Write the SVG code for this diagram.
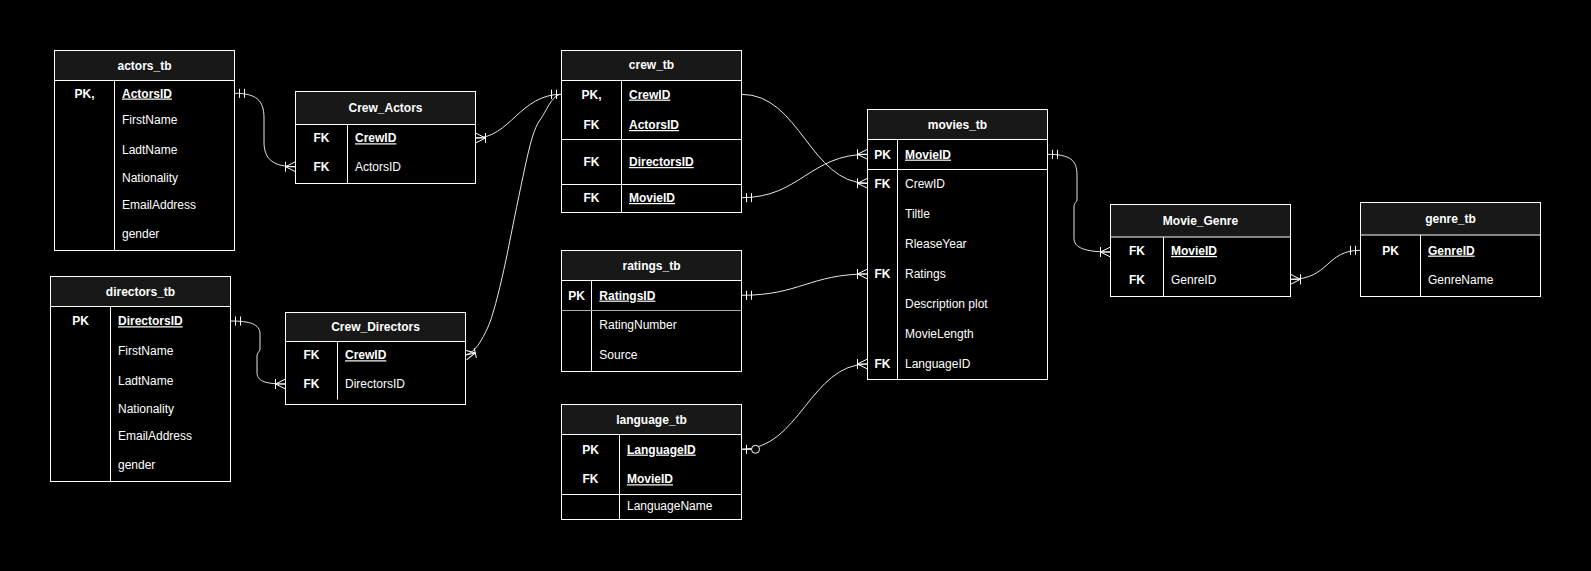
<svg xmlns="http://www.w3.org/2000/svg" width="1591" height="571" viewBox="0 0 1591 571">
<style>
.bg{fill:#000}
.box{fill:#000;stroke:#fff;stroke-width:1}
.hd{fill:#181818;stroke:#fff;stroke-width:1}
.ln{stroke:#fff;stroke-width:1;fill:none}
.lg{stroke:#aaa;stroke-width:1;fill:none}
text{font-family:"Liberation Sans",Arial,Helvetica,sans-serif;font-size:12px;fill:#fff}
.h{font-weight:bold;text-anchor:middle}
.k{font-weight:bold;text-anchor:middle}
.f{text-anchor:start}
.u{font-weight:bold;text-decoration:underline;text-anchor:start}
.c{fill:none;stroke:#e6e6e6;stroke-width:1}
</style>
<defs>
<marker id="one" markerUnits="userSpaceOnUse" viewBox="-20 -10 24 20" markerWidth="24" markerHeight="20" refX="0" refY="0" orient="auto-start-reverse" overflow="visible">
<path d="M-5 -4.5V4.5M-10 -4.5V4.5" stroke="#fff" stroke-width="1" fill="none"/>
</marker>
<marker id="many" markerUnits="userSpaceOnUse" viewBox="-20 -10 24 20" markerWidth="24" markerHeight="20" refX="0" refY="0" orient="auto-start-reverse" overflow="visible">
<path d="M0 -5L-10 0L0 5M0 0H-10M-10 -5V5" stroke="#fff" stroke-width="1" fill="none"/>
</marker>
<marker id="zeroone" markerUnits="userSpaceOnUse" viewBox="-24 -10 28 20" markerWidth="28" markerHeight="20" refX="0" refY="0" orient="auto-start-reverse" overflow="visible">
<path d="M0 0H-10M-5 -4.5V4.5" stroke="#fff" stroke-width="1" fill="none"/>
<circle cx="-14" cy="0" r="4" fill="#000" stroke="#fff" stroke-width="1"/>
</marker>
</defs>
<rect class="bg" x="0" y="0" width="1591" height="571"/>

<g id="connectors">
<path class="c" d="M234.5 93.3 C256 93.3 264 100 264 118 L264 142 C264 160 274 166.7 295.5 166.7" marker-start="url(#one)" marker-end="url(#many)"/>
<path class="c" d="M475.5 138 C510 138 520 94.3 561.5 94.3" marker-start="url(#many)" marker-end="url(#one)"/>
<path class="c" d="M465.5 355 C475 353 482 340 488 327 S503 275 508 250 S520 190 525 167 S534 128 540 120 S552 94.3 561.5 94.3" marker-start="url(#many)" marker-end="url(#one)"/>
<path class="c" d="M230.5 321 C250 321 260 324 260 334 L260 349 C260 352 257 352 257 356 L257 372 C257 381 264 384 285.5 384" marker-start="url(#one)" marker-end="url(#many)"/>
<path class="c" d="M741.5 94.3 C800 94.3 810 183.3 867.5 183.3" marker-end="url(#many)"/>
<path class="c" d="M741.5 197.7 C800 197.7 810 154.3 867.5 154.3" marker-start="url(#one)" marker-end="url(#many)"/>
<path class="c" d="M741.5 295.3 C800 295.3 810 274 867.5 274" marker-start="url(#one)" marker-end="url(#many)"/>
<path class="c" d="M741.5 449.3 C800 449.3 810 364 867.5 364" marker-start="url(#zeroone)" marker-end="url(#many)"/>
<path class="c" d="M1047.5 154.3 C1070 154.3 1077 160 1077 175 L1077 199 C1077 203 1074 202 1074 207 L1074 238 C1074 248 1085 252 1110.5 252" marker-start="url(#one)" marker-end="url(#many)"/>
<path class="c" d="M1360.5 250.3 C1325 250.3 1330 279.3 1290.5 279.3" marker-start="url(#one)" marker-end="url(#many)"/>
</g>

<g id="actors_tb">
<rect class="box" x="54.5" y="50.5" width="180" height="200"/>
<rect class="hd" x="54.5" y="50.5" width="180" height="30"/>
<path class="ln" d="M114.5 80.5V250.5"/>
<text class="h" x="144.5" y="70">actors_tb</text>
<text class="k" x="84.5" y="97.5">PK,</text>
<text class="u" x="122" y="97.5">ActorsID</text>
<text class="f" x="122" y="124">FirstName</text>
<text class="f" x="122" y="153.5">LadtName</text>
<text class="f" x="122" y="181.5">Nationality</text>
<text class="f" x="122" y="209">EmailAddress</text>
<text class="f" x="122" y="238">gender</text>
</g>

<g id="Crew_Actors">
<rect class="box" x="295.5" y="91.5" width="180" height="92"/>
<rect class="hd" x="295.5" y="91.5" width="180" height="33"/>
<path class="ln" d="M347.5 124.5V183.5"/>
<text class="h" x="385.5" y="112.3">Crew_Actors</text>
<text class="k" x="321.5" y="142.3">FK</text>
<text class="u" x="355" y="142.3">CrewID</text>
<text class="k" x="321.5" y="171">FK</text>
<text class="f" x="355" y="171">ActorsID</text>
</g>

<g id="directors_tb">
<rect class="box" x="50.5" y="276.5" width="180" height="205"/>
<rect class="hd" x="50.5" y="276.5" width="180" height="30"/>
<path class="ln" d="M110.5 306.5V481.5"/>
<text class="h" x="140.5" y="295.5">directors_tb</text>
<text class="k" x="80.5" y="325.3">PK</text>
<text class="u" x="118" y="325.3">DirectorsID</text>
<text class="f" x="118" y="355">FirstName</text>
<text class="f" x="118" y="384.5">LadtName</text>
<text class="f" x="118" y="412.5">Nationality</text>
<text class="f" x="118" y="440">EmailAddress</text>
<text class="f" x="118" y="468.5">gender</text>
</g>

<g id="Crew_Directors">
<rect class="box" x="285.5" y="312.5" width="180" height="92"/>
<rect class="hd" x="285.5" y="312.5" width="180" height="29"/>
<path class="ln" d="M337.5 341.5V399.5"/>
<text class="h" x="375.5" y="331">Crew_Directors</text>
<text class="k" x="311.5" y="359.3">FK</text>
<text class="u" x="345" y="359.3">CrewID</text>
<text class="k" x="311.5" y="388.3">FK</text>
<text class="f" x="345" y="388.3">DirectorsID</text>
</g>

<g id="crew_tb">
<rect class="box" x="561.5" y="50.5" width="180" height="162"/>
<rect class="hd" x="561.5" y="50.5" width="180" height="30"/>
<path class="ln" d="M621.5 80.5V212.5M561.5 139.5H741.5M561.5 184.5H741.5"/>
<text class="h" x="651.5" y="69.3">crew_tb</text>
<text class="k" x="591.5" y="98.6">PK,</text>
<text class="u" x="629" y="98.6">CrewID</text>
<text class="k" x="591.5" y="129">FK</text>
<text class="u" x="629" y="129">ActorsID</text>
<text class="k" x="591.5" y="166">FK</text>
<text class="u" x="629" y="166">DirectorsID</text>
<text class="k" x="591.5" y="202">FK</text>
<text class="u" x="629" y="202">MovieID</text>
</g>

<g id="ratings_tb">
<rect class="box" x="561.5" y="250.5" width="180" height="121"/>
<rect class="hd" x="561.5" y="250.5" width="180" height="30"/>
<path class="ln" d="M591.5 280.5V371.5"/>
<path class="lg" d="M562 310.5H741"/>
<text class="h" x="651.5" y="269.6">ratings_tb</text>
<text class="k" x="576.5" y="299.6">PK</text>
<text class="u" x="599.3" y="299.6">RatingsID</text>
<text class="f" x="599.3" y="329.3">RatingNumber</text>
<text class="f" x="599.3" y="359">Source</text>
</g>

<g id="language_tb">
<rect class="box" x="561.5" y="404.5" width="180" height="115"/>
<rect class="hd" x="561.5" y="404.5" width="180" height="30"/>
<path class="ln" d="M619.5 434.5V519.5M561.5 494.5H741.5"/>
<text class="h" x="651.5" y="423.6">language_tb</text>
<text class="k" x="590.5" y="453.6">PK</text>
<text class="u" x="627" y="453.6">LanguageID</text>
<text class="k" x="590.5" y="483.3">FK</text>
<text class="u" x="627" y="483.3">MovieID</text>
<text class="f" x="627" y="510.3">LanguageName</text>
</g>

<g id="movies_tb">
<rect class="box" x="867.5" y="109.5" width="180" height="270"/>
<rect class="hd" x="867.5" y="109.5" width="180" height="30"/>
<path class="ln" d="M897.5 139.5V379.5M867.5 169.5H1047.5"/>
<text class="h" x="957.5" y="128.6">movies_tb</text>
<text class="k" x="882.5" y="158.6">PK</text>
<text class="u" x="905" y="158.6">MovieID </text>
<text class="k" x="882.5" y="187.6">FK</text>
<text class="f" x="905" y="187.6">CrewID</text>
<text class="f" x="905" y="218">Tiltle</text>
<text class="f" x="905" y="248">RleaseYear</text>
<text class="k" x="882.5" y="277.6">FK</text>
<text class="f" x="905" y="277.6">Ratings</text>
<text class="f" x="905" y="307.6">Description plot</text>
<text class="f" x="905" y="337.6">MovieLength</text>
<text class="k" x="882.5" y="368.3">FK</text>
<text class="f" x="905" y="368.3">LanguageID</text>
</g>

<g id="Movie_Genre">
<rect class="box" x="1110.5" y="204.5" width="180" height="92"/>
<rect class="hd" x="1110.5" y="204.5" width="180" height="32.5"/>
<path class="ln" d="M1163.5 237V296.5"/>
<text class="h" x="1200.5" y="225.3">Movie_Genre</text>
<text class="k" x="1137" y="255">FK</text>
<text class="u" x="1171" y="255">MovieID</text>
<text class="k" x="1137" y="283.6">FK</text>
<text class="f" x="1171" y="283.6">GenreID</text>
</g>

<g id="genre_tb">
<rect class="box" x="1360.5" y="202.5" width="180" height="94"/>
<rect class="hd" x="1360.5" y="202.5" width="180" height="32.5"/>
<path class="ln" d="M1420.5 235V296.5"/>
<text class="h" x="1450.5" y="222.6">genre_tb</text>
<text class="k" x="1390.5" y="254.6">PK</text>
<text class="u" x="1428" y="254.6">GenreID</text>
<text class="f" x="1428" y="284">GenreName</text>
</g>
</svg>
